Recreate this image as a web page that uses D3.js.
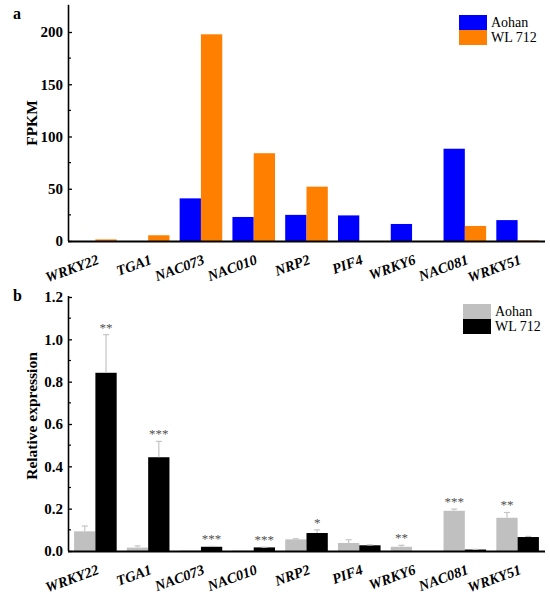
<!DOCTYPE html>
<html><head><meta charset="utf-8">
<script src="https://cdn.jsdelivr.net/npm/d3@7"></script>
<style>body{margin:0;background:#fff}svg{display:block}text{font-family:"Liberation Serif","Times New Roman",serif}</style>
</head><body>
<script>
const genes = ["WRKY22","TGA1","NAC073","NAC010","NRP2","PIF4","WRKY6","NAC081","WRKY51"];
const seriesNames = ["Aohan","WL 712"];
// panel a: FPKM
const fpkmAohan = [0, 0, 40.8, 23, 25, 24.5, 16.3, 88.3, 20];
const fpkmWL712 = [1.5, 5.5, 197.8, 84, 52, 0, 0, 14.4, 0.6];
const fpkmTicks = [0, 50, 100, 150, 200];
// panel b: relative expression
const relAohan = [0.093, 0.016, 0.002, 0.002, 0.055, 0.038, 0.02, 0.19, 0.157];
const relAohanErr = [0.025, 0.008, 0, 0, 0.003, 0.015, 0.007, 0.008, 0.025];
const relWL712 = [0.842, 0.443, 0.02, 0.017, 0.085, 0.027, 0, 0.007, 0.066];
const relWL712Err = [0.18, 0.075, 0.002, 0.001, 0.015, 0.002, 0, 0.001, 0.003];
const sigLabels = ["**", "***", "***", "***", "*", "", "**", "***", "**"];
const relTicks = [0.0, 0.2, 0.4, 0.6, 0.8, 1.0, 1.2];

const W = 550, H = 600;
const svg = d3.select("body").append("svg").attr("width", W).attr("height", H);

const x0 = d3.scaleBand().domain(genes).range([69, 544]).paddingInner(0.193).paddingOuter(0.0965);
const x1 = d3.scaleBand().domain(seriesNames).range([0, x0.bandwidth()]);

function panel(opt) {
  const g = svg.append("g");
  const y = d3.scaleLinear().domain(opt.domain).range([opt.y0, opt.yTop]);
  const data = genes.map((gname, i) => ({gene: gname, i}));
  opt.series.forEach((s, si) => {
    g.selectAll(null).data(data).enter().append("rect")
      .attr("x", d => x0(d.gene) + x1(seriesNames[si]))
      .attr("width", x1.bandwidth())
      .attr("y", d => y(s.values[d.i]))
      .attr("height", d => y(0) - y(s.values[d.i]))
      .attr("fill", s.color);
    if (s.err) {
      const cx = d => x0(d.gene) + x1(seriesNames[si]) + x1.bandwidth() / 2;
      const ed = data.filter(d => s.err[d.i] > 0);
      g.selectAll(null).data(ed).enter().append("line")
        .attr("x1", cx).attr("x2", cx)
        .attr("y1", d => y(s.values[d.i])).attr("y2", d => y(s.values[d.i] + s.err[d.i]))
        .attr("stroke", "#c4c4c4").attr("stroke-width", 1.2);
      g.selectAll(null).data(ed).enter().append("line")
        .attr("x1", d => cx(d) - 3).attr("x2", d => cx(d) + 3)
        .attr("y1", d => y(s.values[d.i] + s.err[d.i])).attr("y2", d => y(s.values[d.i] + s.err[d.i]))
        .attr("stroke", "#c4c4c4").attr("stroke-width", 1.2);
    }
  });
  if (opt.sig) {
    g.selectAll(null).data(data.filter(d => sigLabels[d.i])).enter().append("text")
      .attr("x", d => {
        const s = (relWL712[d.i] + relWL712Err[d.i] >= relAohan[d.i] + relAohanErr[d.i]) ? 1 : 0;
        return x0(d.gene) + x1(seriesNames[s]) + x1.bandwidth() / 2;
      })
      .attr("y", d => y(Math.max(relWL712[d.i] + relWL712Err[d.i], relAohan[d.i] + relAohanErr[d.i])) - 3)
      .attr("text-anchor", "middle").style("font-size", "13px").style("fill", "#505050")
      .text(d => sigLabels[d.i]);
  }
  // y axis
  const ya = d3.axisRight(y).tickValues(opt.ticks).tickSize(4).tickFormat(opt.fmt);
  const yg = g.append("g").attr("transform", `translate(68,0)`).call(ya);
  yg.select(".domain").attr("stroke-width", 1.6).attr("d", `M0.5,${y(opt.axisMax)}V${opt.y0}`);
  yg.selectAll(".tick line").attr("stroke-width", 1.3);
  yg.selectAll(".tick text").attr("x", -5).attr("text-anchor", "end")
    .style("font-size", "15px").style("font-weight", "bold").style("fill", "#000");
  const minor = [];
  for (let k = 0; k < opt.ticks.length - 1; k++) minor.push((opt.ticks[k] + opt.ticks[k + 1]) / 2);
  g.selectAll(null).data(minor).enter().append("line")
    .attr("x1", 68.5).attr("x2", 71).attr("y1", d => y(d)).attr("y2", d => y(d))
    .attr("stroke", "#000").attr("stroke-width", 1.2);
  // x axis line
  g.append("line").attr("x1", 68).attr("x2", 545).attr("y1", opt.y0 + 0.5).attr("y2", opt.y0 + 0.5)
    .attr("stroke", "#000").attr("stroke-width", 1.8);
  // x labels (rotated, bold italic)
  const lab = g.selectAll(null).data(genes).enter().append("g")
    .attr("transform", d => `translate(${x0(d) + x0.bandwidth() / 2 + 1},${opt.y0 + 13})`);
  lab.append("text")
    .attr("transform", "rotate(-20)")
    .attr("text-anchor", "end").attr("dy", "0.7em")
    .style("font-size", "14.5px").style("font-weight", "bold").style("font-style", "italic")
    .text(d => d);
  // y label
  g.append("text").attr("transform", `translate(${opt.ylx},${opt.ylyc}) rotate(-90)`)
    .attr("text-anchor", "middle").style("font-size", "15.5px").style("font-weight", "bold").text(opt.ylabel);
  g.append("text").attr("x", 13).attr("y", opt.letterY).style("font-size", "16px").style("font-weight", "bold").text(opt.letter);
  const lg = g.append("g").attr("transform", `translate(${opt.legX},${opt.legY})`);
  opt.series.forEach((s, si) => {
    lg.append("rect").attr("x", 0).attr("y", si * 15).attr("width", 28).attr("height", 15).attr("fill", s.color);
    lg.append("text").attr("x", 32).attr("y", si * 15 + 12).style("font-size", "14px").text(seriesNames[si]);
  });
}

panel({
  domain: [0, 200], y0: 241, yTop: 32, axisMax: 226, ticks: fpkmTicks, fmt: d3.format("d"),
  series: [{values: fpkmAohan, color: "#0000ff"}, {values: fpkmWL712, color: "#ff7f00"}],
  ylabel: "FPKM", ylx: 37, ylyc: 123, letter: "a", letterY: 19, legX: 459, legY: 15
});
panel({
  domain: [0, 1.2], y0: 551, yTop: 297, axisMax: 1.205, ticks: relTicks, fmt: d3.format(".1f"),
  series: [{values: relAohan, err: relAohanErr, color: "#c0c0c0"}, {values: relWL712, err: relWL712Err, color: "#000"}],
  ylabel: "Relative expression", ylx: 37, ylyc: 416, letter: "b", letterY: 301, legX: 463, legY: 304, sig: true
});
</script>
</body></html>
